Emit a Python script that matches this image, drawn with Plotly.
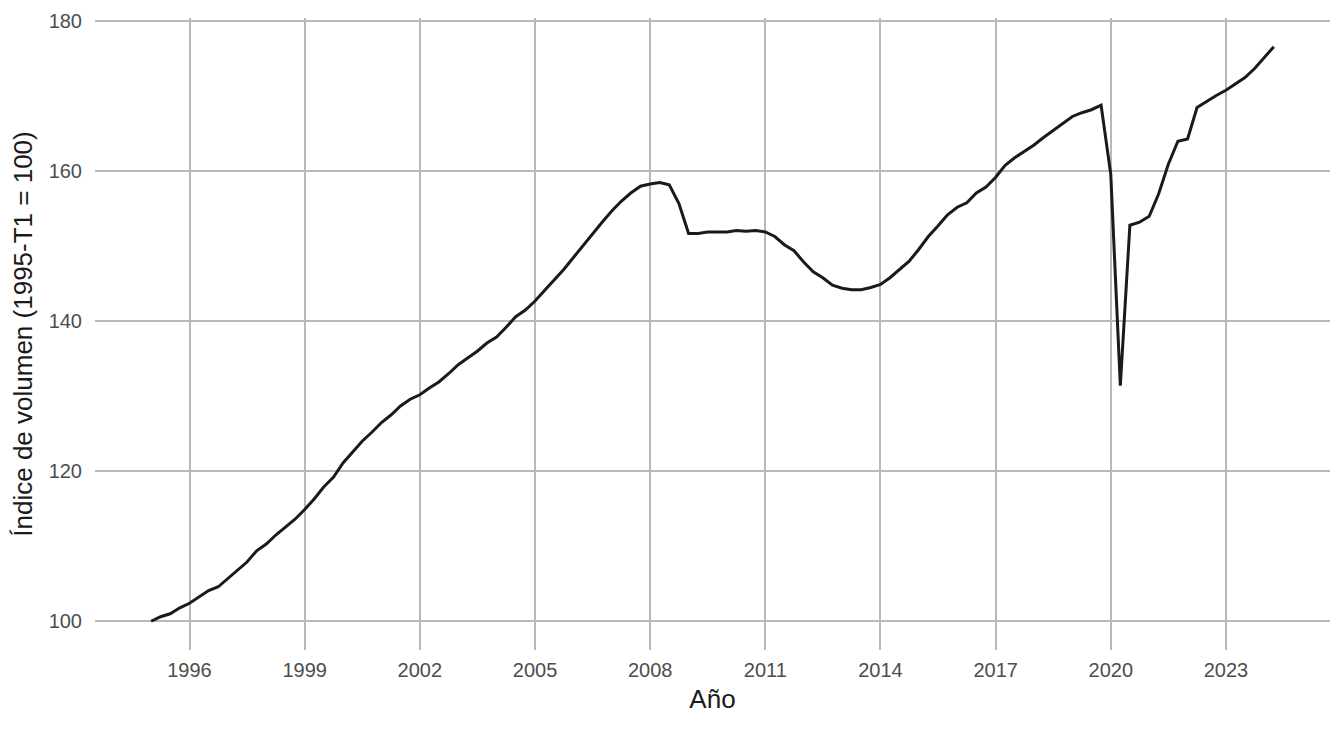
import pandas as pd
import plotly.graph_objects as go

# serie trimestral, 1995-T1 a 2024-T2
start_quarter = "1995-01-01"
values_1995_2004 = [100.0, 100.6, 101.0, 101.8, 102.4, 103.2, 104.1, 104.6,
                    105.7, 106.7, 107.9, 109.4, 110.3, 111.5, 112.5, 113.6,
                    114.9, 116.3, 117.9, 119.2, 121.1, 122.6, 124.0, 125.2,
                    126.5, 127.5, 128.7, 129.6, 130.2, 131.1, 131.9, 133.0,
                    134.2, 135.1, 136.0, 137.1, 137.9, 139.2, 140.6, 141.5]
values_2005_2014 = [142.7, 144.1, 145.5, 146.9, 148.5, 150.1, 151.7, 153.2,
                    154.7, 156.0, 157.1, 158.0, 158.3, 158.5, 158.2, 155.7,
                    151.7, 151.7, 151.9, 151.9, 151.9, 152.1, 152.0, 152.1,
                    151.9, 151.3, 150.2, 149.4, 147.9, 146.6, 145.8, 144.8,
                    144.4, 144.2, 144.2, 144.5, 144.9, 145.8, 146.9, 148.0]
values_2015_2024 = [149.6, 151.3, 152.7, 154.2, 155.2, 155.8, 157.1, 157.9,
                    159.2, 160.8, 161.8, 162.6, 163.5, 164.5, 165.4, 166.4,
                    167.3, 167.8, 168.2, 168.8, 159.6, 131.4, 152.8, 153.2,
                    154.0, 157.0, 160.9, 164.0, 164.3, 168.5, 169.3, 170.1,
                    170.8, 171.6, 172.5, 173.7, 175.2, 176.6]
tick_years = [1996, 1999, 2002, 2005, 2008, 2011, 2014, 2017, 2020, 2023]

values = values_1995_2004 + values_2005_2014 + values_2015_2024
dates = pd.date_range(start_quarter, periods=len(values), freq="QS")

# rango con expansión del 5% (como ggplot)
span = dates[-1] - dates[0]
x_range = [dates[0] - span * 0.05, dates[-1] + span * 0.05]
y_span = max(values) - min(values)
y_range = [min(values) - y_span * 0.05, max(values) + y_span * 0.05]

fig = go.Figure(go.Scatter(
    x=dates, y=values, mode="lines",
    line=dict(color="#1a1a1a", width=3),
    showlegend=False
))

grid = "#b8b8b8"
# la página añade 8px de margen al body
fig.update_layout(
    width=1336, height=721,
    plot_bgcolor="white", paper_bgcolor="white",
    margin=dict(l=87, r=14, t=10, b=79),
    font=dict(family="Liberation Sans, Arial, sans-serif", color="#1a1a1a"),
)
fig.update_xaxes(
    range=x_range, automargin=False,
    tickvals=[pd.Timestamp(f"{y}-01-01") for y in tick_years],
    ticktext=[str(y) for y in tick_years],
    showgrid=True, gridcolor=grid, gridwidth=1.6,
    zeroline=False, showline=False, ticks="",
    tickfont=dict(size=20, color="#4d4d4d"),
    ticklabelstandoff=6,
    title=dict(text="Año", font=dict(size=26, color="#1a1a1a"), standoff=9),
)
fig.update_yaxes(
    range=y_range, automargin=False,
    tickvals=[100, 120, 140, 160, 180],
    showgrid=True, gridcolor=grid, gridwidth=1.6,
    zeroline=False, showline=False, ticks="",
    tickfont=dict(size=20, color="#4d4d4d"),
    ticklabelstandoff=12,
    title=dict(text="Índice de volumen (1995-T1 = 100)",
               font=dict(size=26, color="#1a1a1a"), standoff=8),
)

fig.write_html("out.html")
